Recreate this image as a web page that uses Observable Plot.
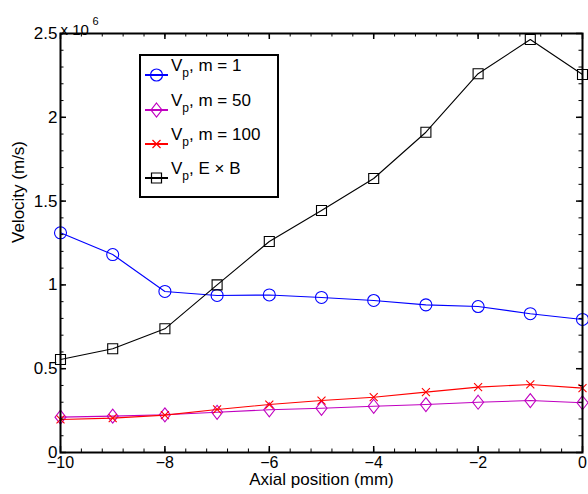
<!DOCTYPE html>
<html><head><meta charset="utf-8">
<script src="https://cdn.jsdelivr.net/npm/d3@7"></script>
<script src="https://cdn.jsdelivr.net/npm/@observablehq/plot@0.6"></script>
<style>
body{margin:0;background:#fff}
#chart{position:relative;width:588px;height:494px}
svg{font-family:"Liberation Sans",Arial,Helvetica,sans-serif}
</style>
</head><body><div id="chart"></div>
<script>
// Axial positions (mm)
const positions = [-10, -9, -8, -7, -6, -5, -4, -3, -2, -1, 0];
// Velocities in units of 1e6 m/s
const vpM1   = [1.311, 1.181, 0.961, 0.937, 0.940, 0.925, 0.907, 0.881, 0.871, 0.828, 0.794];
const vpM50  = [0.211, 0.217, 0.225, 0.240, 0.255, 0.264, 0.276, 0.286, 0.300, 0.310, 0.297];
const vpM100 = [0.197, 0.205, 0.223, 0.257, 0.286, 0.310, 0.330, 0.360, 0.390, 0.406, 0.384];
const vpExB  = [0.555, 0.619, 0.738, 1.000, 1.259, 1.444, 1.635, 1.911, 2.260, 2.464, 2.255];

const seriesNames = ["m = 1", "m = 50", "m = 100", "E \u00d7 B"];
const seriesColors = ["#0000ff", "#c000c0", "#ff0000", "#000000"];
const seriesValues = [vpM1, vpM50, vpM100, vpExB];

const xMajorTicks = [-10, -8, -6, -4, -2, 0];
const yMajorTicks = [0, 0.5, 1, 1.5, 2, 2.5];
const xMinorTicks = Array.from({length: 26}, (_, i) => -10 + i * 0.4);
const yMinorTicks = Array.from({length: 26}, (_, i) => i * 0.1);

const W = 588, H = 494, mL = 60, mR = 6, mT = 33, mB = 42;
const innerW = W - mL - mR, innerH = H - mT - mB;
const FONT = '"Liberation Sans", Arial, Helvetica, sans-serif';

// custom symbols
const circleSym = {draw(c){ c.moveTo(6,0); c.arc(0,0,6,0,2*Math.PI); }};
const diamondSym = {draw(c){ c.moveTo(0,-7); c.lineTo(5.5,0); c.lineTo(0,7); c.lineTo(-5.5,0); c.closePath(); }};
const crossSym = {draw(c){ c.moveTo(-4,-4); c.lineTo(4,4); c.moveTo(4,-4); c.lineTo(-4,4); }};
const squareSym = {draw(c){ c.moveTo(-5,-5); c.lineTo(5,-5); c.lineTo(5,5); c.lineTo(-5,5); c.closePath(); }};
const symbols = [circleSym, diamondSym, crossSym, squareSym];

const rows = [];
seriesValues.forEach((vals, s) => vals.forEach((v, i) => rows.push({x: positions[i], y: v * 1e6, s})));

const marks = [];
seriesValues.forEach((vals, s) => {
  const d = rows.filter(r => r.s === s);
  marks.push(Plot.line(d, {x: "x", y: "y", stroke: seriesColors[s], strokeWidth: 1.1}));
  marks.push(Plot.dot(d, {x: "x", y: "y", symbol: symbols[s], stroke: seriesColors[s], fill: "none", strokeWidth: 1.1}));
});

const fmtMinus = d => d < 0 ? "\u2212" + Math.abs(d) : String(d);

const chart = Plot.plot({
  width: W, height: H,
  marginLeft: mL, marginRight: mR, marginTop: mT, marginBottom: mB,
  style: {fontFamily: FONT, fontSize: "17px", color: "#000", background: "#fff"},
  x: {domain: [-10, 0]},
  y: {domain: [0, 2.5e6]},
  marks: [
    ...marks,
    // ticks (inward, all four sides)
    Plot.tickX(xMinorTicks, {x: d => d, insetTop: innerH - 3.5, stroke: "#000", strokeWidth: 1}),
    Plot.tickX(xMinorTicks, {x: d => d, insetBottom: innerH - 3.5, stroke: "#000", strokeWidth: 1}),
    Plot.tickX(xMajorTicks, {x: d => d, insetTop: innerH - 6, stroke: "#000", strokeWidth: 1.5}),
    Plot.tickX(xMajorTicks, {x: d => d, insetBottom: innerH - 6, stroke: "#000", strokeWidth: 1.5}),
    Plot.tickY(yMinorTicks, {y: d => d * 1e6, insetRight: innerW - 3.5, stroke: "#000", strokeWidth: 1}),
    Plot.tickY(yMinorTicks, {y: d => d * 1e6, insetLeft: innerW - 3.5, stroke: "#000", strokeWidth: 1}),
    Plot.tickY(yMajorTicks, {y: d => d * 1e6, insetRight: innerW - 6, stroke: "#000", strokeWidth: 1.5}),
    Plot.tickY(yMajorTicks, {y: d => d * 1e6, insetLeft: innerW - 6, stroke: "#000", strokeWidth: 1.5}),
    Plot.frame({stroke: "#000", strokeWidth: 2}),
    Plot.axisX(xMajorTicks, {tickSize: 0, tickPadding: 4, tickFormat: fmtMinus, label: null, fontSize: 16}),
    Plot.axisY(yMajorTicks.map(d => d * 1e6), {tickSize: 0, tickPadding: 3, tickFormat: d => String(d / 1e6), label: null, fontSize: 17}),
    Plot.text([0], {frameAnchor: "bottom", dy: 32, text: () => "Axial position (mm)", fontSize: 17}),
    Plot.text([0], {frameAnchor: "left", dx: -42, rotate: -90, text: () => "Velocity (m/s)", fontSize: 17}),
    Plot.text([0], {frameAnchor: "top-left", dx: 0, dy: -9, text: () => "x 10", fontSize: 15, textAnchor: "start"}),
    Plot.text([0], {frameAnchor: "top-left", dx: 32, dy: -16.5, text: () => "6", fontSize: 11, textAnchor: "start"})
  ]
});

document.getElementById("chart").appendChild(chart);

// legend
const svg = d3.select(chart);
const lg = svg.append("g").attr("font-family", FONT).attr("text-anchor", "start");
lg.append("rect").attr("x", 140).attr("y", 55).attr("width", 138).attr("height", 142)
  .attr("fill", "#fff").attr("stroke", "#000").attr("stroke-width", 2);
const legendLineY = [75, 110, 144, 178];
seriesNames.forEach((name, s) => {
  const y = legendLineY[s];
  lg.append("line").attr("x1", 145).attr("x2", 168).attr("y1", y).attr("y2", y)
    .attr("stroke", seriesColors[s]).attr("stroke-width", 2);
  const p = d3.path(); symbols[s].draw(p);
  lg.append("path").attr("d", p.toString()).attr("transform", `translate(156.5,${y})`)
    .attr("fill", "none").attr("stroke", seriesColors[s]).attr("stroke-width", 1.2);
  const t = lg.append("text").attr("x", 171).attr("y", y - 4).attr("font-size", 17)
    .attr("fill", "#000").attr("text-anchor", "start");
  t.append("tspan").text("V");
  t.append("tspan").attr("font-size", 12).attr("dy", 6).text("p");
  t.append("tspan").attr("dy", -6).text(", " + name);
});
</script></body></html>
